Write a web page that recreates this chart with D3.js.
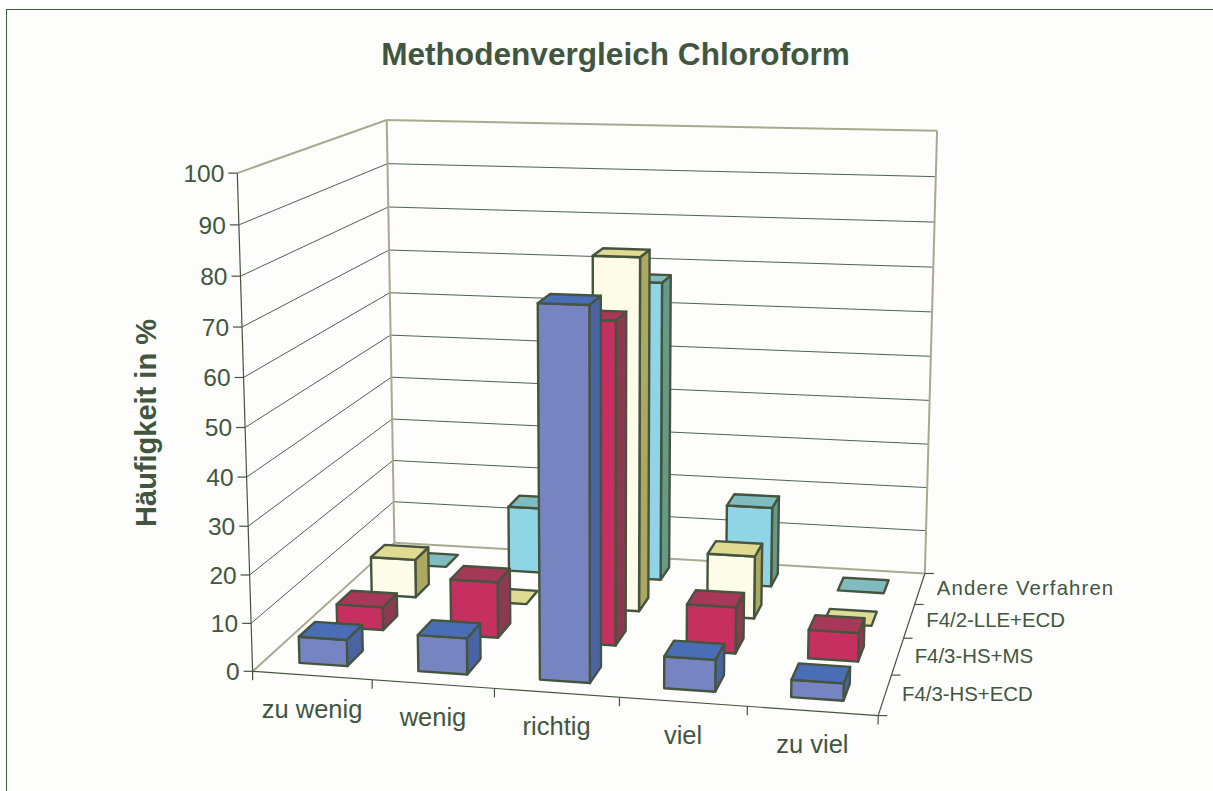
<!DOCTYPE html>
<html><head><meta charset="utf-8">
<script src="https://cdn.jsdelivr.net/npm/d3@7"></script>
<style>html,body{margin:0;padding:0;background:#fff;overflow:hidden}svg{display:block}text{font-family:"Liberation Sans",Arial,sans-serif;fill:#42563f}</style>
</head><body><svg id="c" width="1213" height="791"></svg>
<script>
const categories = ["zu wenig","wenig","richtig","viel","zu viel"];
const seriesNames = ["F4/3-HS+ECD","F4/3-HS+MS","F4/2-LLE+ECD","Andere Verfahren"];
const ecdValues   = [5.5, 7.5, 75.5, 6.5, 3.5];
const msValues    = [5, 12, 68, 9.8, 6];
const lleValues   = [8.5, 0, 77, 13.7, 0];
const andereValues= [0, 15, 67.5, 18, 0];
const allValues = [ecdValues, msValues, lleValues, andereValues];
const yTicks = [0,10,20,30,40,50,60,70,80,90,100];
const chartTitle = "Methodenvergleich Chloroform";
const yTitle = "Häufigkeit in %";
const faceColors = [
  {front:"#7685c1",top:"#4a6eb5",side:"#4a64a3"},
  {front:"#c63060",top:"#a83858",side:"#8c3a50"},
  {front:"#fdfce8",top:"#e0db92",side:"#aba85f"},
  {front:"#90d5e6",top:"#80bbbf",side:"#669a88"}
];
const dark="#45543f", tan="#aaa98f", gridCol="#4f6250";

// Fit a projective camera to the box corners seen in the picture
const corners=[[0,0,0,253,671],[1,0,0,878,716],[1,1,0,925,573],[0,1,0,394,543],[0,0,1,237,173],[0,1,1,387,120],[1,1,1,937,131]];
function solve(A,b){const n=b.length,M=A.map((r,i)=>[...r,b[i]]);
  for(let i=0;i<n;i++){let p=i;for(let k=i+1;k<n;k++)if(Math.abs(M[k][i])>Math.abs(M[p][i]))p=k;[M[i],M[p]]=[M[p],M[i]];
    for(let k=0;k<n;k++)if(k!==i){const f=M[k][i]/M[i][i];for(let j=i;j<=n;j++)M[k][j]-=f*M[i][j];}}
  return M.map((r,i)=>r[n]/r[i]);}
const rows=[],rhs=[];
corners.forEach(([u,v,w,x,y])=>{
  rows.push([u,v,w,1,0,0,0,0,-x*u,-x*v,-x*w]);rhs.push(x);
  rows.push([0,0,0,0,u,v,w,1,-y*u,-y*v,-y*w]);rhs.push(y);});
const AtA=d3.range(11).map(i=>d3.range(11).map(j=>d3.sum(rows,r=>r[i]*r[j])));
const Atb=d3.range(11).map(i=>d3.sum(rows,(r,k)=>r[i]*rhs[k]));
const h=solve(AtA,Atb);
function proj(u,v,w){const d=h[8]*u+h[9]*v+h[10]*w+1;return [(h[0]*u+h[1]*v+h[2]*w+h[3])/d,(h[4]*u+h[5]*v+h[6]*w+h[7])/d];}

const xBand=d3.scaleBand().domain(categories).range([0,1]);
const zBand=d3.scaleBand().domain(seriesNames).range([0,1]);
const yScale=d3.scaleLinear().domain([0,100]).range([0,1]);
const xFill=0.405, zFill=0.42;

const svg=d3.select("#c");
svg.append("rect").attr("x",6.5).attr("y",9.5).attr("width",1300).attr("height",900).attr("fill","#fdfdfb").attr("stroke","#3f5a3f").attr("stroke-width",1);
const line=d3.line();
function seg(g,a,b,col,w){g.append("path").attr("d",line([a,b])).attr("stroke",col).attr("stroke-width",w).attr("fill","none");}
const walls=svg.append("g");
yTicks.slice(1,-1).forEach(t=>{const w=yScale(t);
  seg(walls,proj(0,0,w),proj(0,1,w),gridCol,1);
  seg(walls,proj(0,1,w),proj(1,1,w),gridCol,1);});
[[[0,0,0],[0,1,0]],[[0,1,0],[1,1,0]],[[0,1,0],[0,1,1]],[[1,1,0],[1,1,1]],[[0,0,1],[0,1,1]],[[0,1,1],[1,1,1]]].forEach(([a,b])=>seg(walls,proj(...a),proj(...b),tan,2));
// axes
const axes=svg.append("g");
seg(axes,proj(0,0,0),proj(0,0,1),dark,1.2);
seg(axes,proj(0,0,0),proj(1,0,0),dark,1.2);
seg(axes,proj(1,0,0),proj(1,1,0),dark,1.2);
yTicks.forEach(t=>{const p=proj(0,0,yScale(t));seg(axes,[p[0]-9,p[1]],p,dark,1.2);
  svg.append("text").attr("x",p[0]-13).attr("y",p[1]+9).attr("text-anchor","end").attr("font-size",24.5).text(t);});
const xEdges=[...categories.map(c=>xBand(c)),1], zEdges=[...seriesNames.map(s=>zBand(s)),1];
xEdges.forEach(u=>{const p=proj(u,0,0);seg(axes,p,[p[0],p[1]+9],dark,1.2);});
zEdges.forEach(v=>{const p=proj(1,v,0);seg(axes,p,[p[0]+9,p[1]],dark,1.2);});
categories.forEach(c=>{const p=proj(xBand(c)+xBand.bandwidth()/2,0,0);
  svg.append("text").attr("x",p[0]).attr("y",p[1]+42).attr("text-anchor","middle").attr("font-size",25.5).text(c);});
seriesNames.forEach(s=>{const p=proj(1,zBand(s)+zBand.bandwidth()/2,0);
  svg.append("text").attr("x",p[0]+17).attr("y",p[1]+6.5).attr("font-size",20.4).attr("letter-spacing",s==="Andere Verfahren"?1.1:0).text(s);});
// bars, back to front
const barsG=svg.append("g").attr("stroke",dark).attr("stroke-width",2.4).attr("stroke-linejoin","round");
d3.range(seriesNames.length-1,-1,-1).forEach(si=>{
  const vals=allValues[si],col=faceColors[si];
  const v0=zBand(seriesNames[si])+zBand.bandwidth()*(1-zFill)/2, v1=v0+zBand.bandwidth()*zFill;
  vals.forEach((val,ci)=>{
    const u0=xBand(categories[ci])+xBand.bandwidth()*(1-xFill)/2,u1=u0+xBand.bandwidth()*xFill,w=yScale(val);
    const g=barsG.append("g");
    const poly=(pts,fill)=>g.append("path").attr("d",line(pts.map(p=>proj(...p)))+"Z").attr("fill",fill);
    if(val>0){
      poly([[u1,v0,0],[u1,v1,0],[u1,v1,w],[u1,v0,w]],col.side);
      poly([[u0,v0,0],[u1,v0,0],[u1,v0,w],[u0,v0,w]],col.front);
    }
    poly([[u0,v0,w],[u1,v0,w],[u1,v1,w],[u0,v1,w]],col.top);
  });
});
svg.append("text").attr("x",615.5).attr("y",65).attr("text-anchor","middle").attr("font-size",31.6).attr("font-weight","bold").text(chartTitle);
svg.append("text").attr("transform","translate(156,423) rotate(-90)").attr("text-anchor","middle").attr("font-size",29).attr("font-weight","bold").text(yTitle);
</script></body></html>
